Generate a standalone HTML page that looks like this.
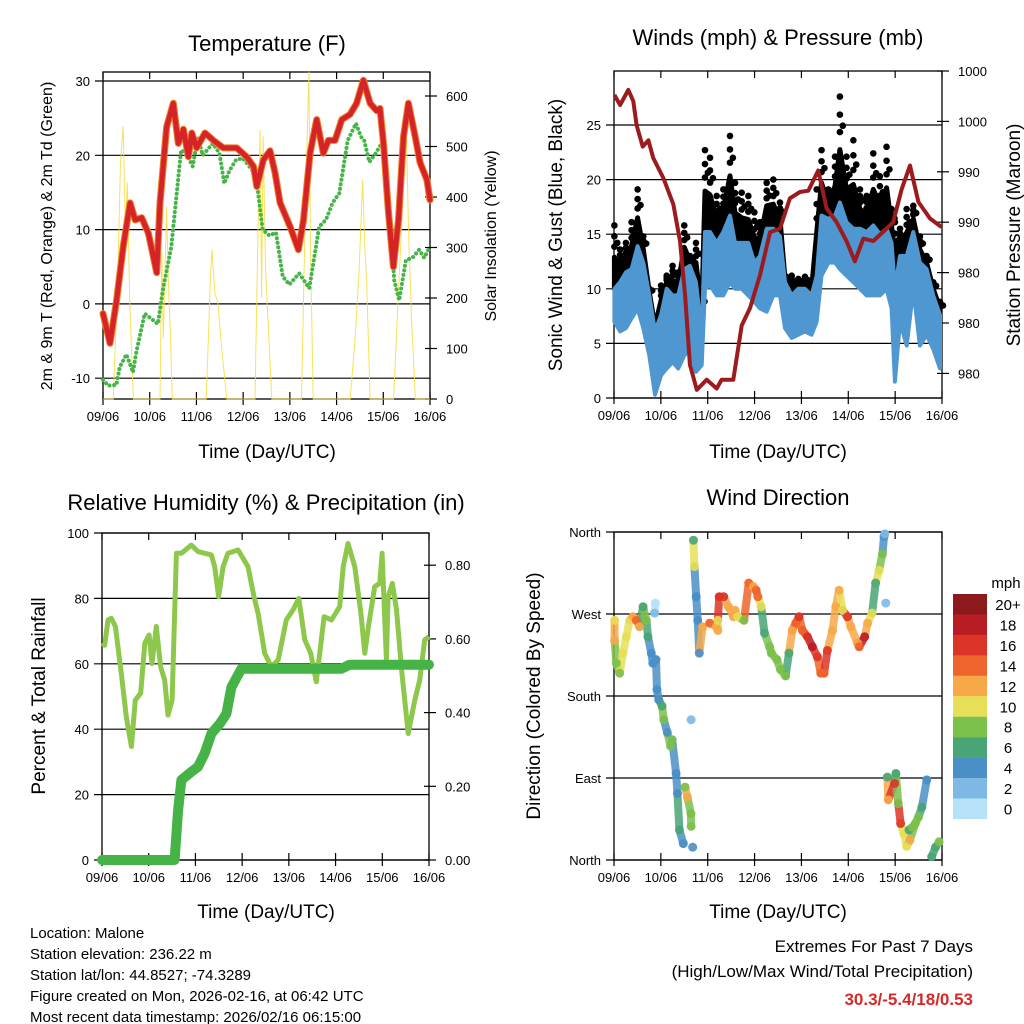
<!DOCTYPE html>
<html><head><meta charset="utf-8"><title>Station Meteogram</title>
<style>
html,body{margin:0;padding:0;background:#fff;}
svg{display:block;font-family:"Liberation Sans",Arial,sans-serif;}
</style></head>
<body>
<svg id="chart" width="1024" height="1024" viewBox="0 0 1024 1024" xmlns="http://www.w3.org/2000/svg">
<rect x="0" y="0" width="1024" height="1024" fill="#fff"/>
<text x="267" y="51" font-size="22" text-anchor="middle">Temperature (F)</text>
<text x="778" y="45" font-size="22" text-anchor="middle">Winds (mph) &amp; Pressure (mb)</text>
<text x="266" y="510" font-size="22" text-anchor="middle">Relative Humidity (%) &amp; Precipitation (in)</text>
<text x="778" y="505" font-size="22" text-anchor="middle">Wind Direction</text>
<text x="267" y="458" font-size="19" text-anchor="middle">Time (Day/UTC)</text>
<text x="778" y="458" font-size="19" text-anchor="middle">Time (Day/UTC)</text>
<text x="266" y="918" font-size="19" text-anchor="middle">Time (Day/UTC)</text>
<text x="778" y="918" font-size="19" text-anchor="middle">Time (Day/UTC)</text>
<text transform="translate(52,236) rotate(-90)" font-size="16" text-anchor="middle">2m &amp; 9m T (Red, Orange) &amp; 2m Td (Green)</text>
<text transform="translate(496,236) rotate(-90)" font-size="16" text-anchor="middle">Solar Insolation (Yellow)</text>
<text transform="translate(562,235) rotate(-90)" font-size="19" text-anchor="middle">Sonic Wind &amp; Gust (Blue, Black)</text>
<text transform="translate(1020,235) rotate(-90)" font-size="19" text-anchor="middle">Station Pressure (Maroon)</text>
<text transform="translate(45,696) rotate(-90)" font-size="19" text-anchor="middle">Percent &amp; Total Rainfall</text>
<text transform="translate(540,696) rotate(-90)" font-size="19" text-anchor="middle">Direction (Colored By Speed)</text>
<g font-size="15">
<text x="30" y="938">Location: Malone</text>
<text x="30" y="959">Station elevation: 236.22 m</text>
<text x="30" y="980">Station lat/lon: 44.8527; -74.3289</text>
<text x="30" y="1001">Figure created on Mon, 2026-02-16, at 06:42 UTC</text>
<text x="30" y="1022">Most recent data timestamp: 2026/02/16 06:15:00</text>
</g>
<g font-size="17" text-anchor="end">
<text x="973" y="952">Extremes For Past 7 Days</text>
<text x="973" y="977">(High/Low/Max Wind/Total Precipitation)</text>
<text x="973" y="1005" fill="#d42a2a" font-weight="bold">30.3/-5.4/18/0.53</text>
</g>
<text x="1006" y="588" font-size="15" text-anchor="middle">mph</text>
</svg>
<script>
const dayLabels=['09/06','10/06','11/06','12/06','13/06','14/06','15/06','16/06'];
// Temperature (hours since start, deg F)
const tHours=[0,3.6,7.0,10.4,13.9,16.5,19.9,23.3,25.0,27.6,29.3,32.7,36.1,38.7,41.3,43.9,45.6,48.1,52.4,56.7,61.8,68.7,73.8,77.3,79.0,82.4,85.8,88.4,91.0,96.1,100.4,103.0,106.4,109.8,113.2,115.8,119.2,122.7,126.9,130.3,133.8,137.2,140.6,142.3,144.1,146.6,149.2,151.8,154.4,156.9,160.4,162.9,166.4,168];
const tempF=[-1.3,-5.3,0.5,7.7,13.6,11.3,11.6,9.5,7.4,4.2,13.6,23.8,27,21.6,23.5,19.8,23,21,23,22,21,21,19.8,18.5,15.8,19.4,20.6,17.6,13.6,10.4,7.3,11.3,20.3,24.8,20.3,22,22,24.8,25.5,27,30.1,27,26,26.3,21.6,12.6,5,11.3,22.5,27,22.5,19,16.7,14];
const tdHours=[0,2.6,6.9,8.6,12.0,15.4,17.1,21.4,24.8,28.2,30.8,35.1,40.1,42.7,46.1,48.7,51.2,56.4,59.8,62.3,64.9,68.4,71.8,75.2,78.6,82.0,85.5,88.9,92.3,95.7,100.8,106.0,111.1,114.5,117.9,121.4,125.7,130.0,132.5,134.2,136.8,140.2,141.9,144.5,147.9,149.6,152.2,155.6,159.0,162.4,165.0,167.6];
const dewF=[-10.2,-11,-10.9,-8.5,-6.8,-9.2,-6.5,-1.3,-2,-2.7,1.9,7.7,20.7,20.3,18.5,22.5,20,21.6,20.3,16.2,17.9,19.4,19.6,18.5,17.3,10,9.2,9.6,3.7,2.6,4.1,2.1,10.4,11.3,13.6,14.9,22,24.3,22.5,22,19.1,20.3,21.1,22,10.4,3.2,0.5,5.9,6.2,7.3,6.2,7.5,5.4];
// Solar insolation
const solarHours=[0,5.3,7.5,9.0,10.4,11.5,12.5,13.8,15.6,29.3,30.2,31.0,32.7,33.6,34.5,35.6,53.0,54.5,55.2,56.0,57.5,59.0,61.0,63.6,78.1,79.5,80.7,81.5,82.3,83.5,86.7,102.0,104.0,105.8,106.6,108.0,127.0,129.5,131.5,133.4,134.5,135.5,137.2,149.3,151.5,153.5,155.7,157.0,158.5,160.5,168];
const solarW=[0,0,230,470,540,330,428,180,0,0,290,120,381,230,140,0,0,160,240,295,210,190,100,0,0,300,533,200,520,260,0,0,380,648,300,0,0,120,250,434,300,230,0,0,190,350,552,330,160,0,0];
const tempTicks=[30,20,10,0,-10];
const solarTicks=[0,100,200,300,400,500,600];
// Winds (mph) and pressure (mb)
const windHours=[0.2,3.1,6.1,9.0,12.1,15.0,18.1,21.0,24.1,27.0,30.0,32.9,36.0,38.9,42.0,44.9,46.6,49.2,52.6,56.0,59.4,62.0,65.4,68.8,71.9,74.8,78.2,81.6,85.0,87.6,91.0,94.4,97.8,101.2,103.8,106.3,109.8,113.2,115.7,119.1,122.6,126.0,129.4,132.8,136.2,139.6,142.2,143.9,146.5,149.9,153.3,156.7,160.1,163.5,167];
const windMax=[10.0,10.6,11.5,11.8,13.9,12.4,9.4,6.1,7.6,10.0,9.4,9.4,11.8,12.1,10.6,5.8,15.2,15.2,14.2,15.2,16.7,14.2,14.2,14.2,12.4,13.0,15.5,15.5,14.8,10.6,9.4,10.0,10.0,9.4,11.2,16.7,16.4,16.7,17.9,16.1,15.5,15.5,15.2,15.8,15.0,15.5,14.2,10.0,13.0,13.0,15.2,12.4,11.8,9.4,7.6];
const windMin=[7.0,6.1,6.4,7.3,8.2,6.4,3.9,0.3,2.1,2.7,3.3,2.7,3.9,4.5,2.4,3.0,10.0,10.3,9.4,9.4,10.6,10.0,10.0,9.4,8.8,8.2,7.9,9.4,9.4,6.4,5.5,5.8,6.1,5.8,7.0,11.2,12.4,12.4,11.8,11.2,10.6,10.0,9.4,9.4,9.4,10.0,8.2,1.5,7.0,4.8,10.0,4.8,5.8,4.5,2.7];
const gustMax=[15.8,13.6,14.2,16.1,19.1,14.8,10.0,7.0,10.3,11.2,12.1,11.5,15.8,13.0,14.2,10.0,22.7,22.0,18.5,19.1,24.0,19.7,18.8,18.5,17.0,16.1,19.7,20.0,17.9,11.2,11.2,10.9,11.1,10.6,19.1,22.7,19.1,22.1,27.6,22.1,23.6,19.1,18.5,22.4,20.3,23.0,17.3,16.1,15.5,17.3,17.6,14.8,13.0,10.6,8.8];
const presHours=[0.2,3.1,7.3,9.9,11.6,14.7,17.6,20.1,25.3,30.4,33.8,36.4,38.9,42.4,47.5,52.6,55.1,61.1,65.4,69.7,74.8,79.9,85.0,90.1,95.2,99.5,104.6,108.9,114.0,119.1,123.4,127.7,132.8,139.6,143.0,147.3,151.6,155.9,161.8,167.8];
const presMb=[998.1,997.3,998.5,997.6,995.7,994.0,994.5,993.1,991.5,989.4,986.5,982.2,976.7,974.7,975.5,974.8,975.5,975.5,979.8,981.2,983.8,987.2,987.5,989.9,990.4,990.5,992.1,989.1,988.0,986.5,984.9,986.7,986.5,987.5,988.0,990.6,992.5,989.6,988.3,987.6];
const windTicks=[25,20,15,10,5,0];
const presTicks=[1000,996,992,988,984,980,976];
const presTickLabels=['1000','1000','990','990','980','980','980'];
// Relative humidity and precipitation
const rhHours=[0,1.4,3.1,4.8,6.9,9.9,12.5,15.1,17.1,19.9,22,24.2,25.7,27.9,30.1,32.2,33.9,36,38.2,40.8,45.9,49.3,56.2,57.9,59.9,62.2,64.7,69.9,75,78.1,80.2,83.6,87,90.5,94.7,98.2,101.1,104.2,107.2,110.1,114.1,117.9,122.1,123.9,126.4,129.9,133,135,137.1,140.1,142.7,143.9,146.1,147,149.2,151.3,153.9,157.3,160.7,163.2,165.8,168];
const rhPct=[66.3,65.7,73.4,73.9,71.4,57.1,43.8,34.7,48.9,51,66.3,68.8,60.1,71.4,59.1,55,44.3,48.9,93.8,93.8,96.3,94.3,93.3,89.7,80.5,89.7,93.8,94.8,89.7,80.5,75.4,63.2,59.1,61.2,73.4,76.5,80,67.3,63.2,54.5,74.4,73.4,77.5,89.7,96.8,89.7,75.4,63.2,72.4,83.6,84.6,93.8,61.2,80.5,84.6,76.5,58.1,38.7,48.9,55,67.3,68.3];
const pcpHours=[0,37.3,39.1,40.8,45.9,49.3,52.7,56.2,60.5,63.9,66.5,71.6,123,127.3,168];
const pcpIn=[0,0,0.135,0.217,0.239,0.253,0.289,0.343,0.37,0.397,0.469,0.519,0.519,0.53,0.53];
const rhTicks=[100,80,60,40,20,0];
const pcpTicks=[0.8,0.6,0.4,0.2,0];
const pcpTickLabels=['0.80','0.60','0.40','0.20','0.00'];
// Wind direction (deg) colored by speed (mph)
const dirHours=[0.3,0.3,1.2,2.9,4.6,6.3,8.0,9.7,11.4,13.1,14.9,16.6,17.4,19.1,19.9,20.8,21.2,21.5,22.0,22.9,24.6,25.5,27.3,29.0,29.8,31.8,32.5,33.5,35.5,36.4,37.6,39.4,39.5,39.5,40.3,40.7,41.2,42.1,42.9,43.7,45.4,49.0,52.4,53.2,53.2,53.9,56.2,58.6,61.2,62.0,63.4,66.6,69.0,71.4,72.8,73.7,75.4,77.1,79.7,80.6,83.4,85.3,87.9,89.6,91.3,93.1,94.8,96.5,99.1,101.6,104.2,105.9,107.6,109.3,111.9,113.6,115.3,117.1,119.6,121.3,124.7,125.6,128.4,129.9,132.2,134.0,135.8,137.5,138.3,138.7,139.2,140.0,140.5,143.7,144.4,145.6,146.8,148.5,149.9,151.6,154.3,155.9,157.7,160.2,162.7,164.7,166.5,151.1,152.8];
const dirDeg=[263,241,216,205,227,245,263,267,263,256,278,263,245,227,216,271,282,220,187,176,169,154,140,125,132,95,73,33,18,80,69,51,37,154,14,351,322,289,263,227,256,260,256,252,263,289,289,278,267,274,267,263,304,300,296,289,278,249,234,227,220,209,202,227,252,260,267,252,245,234,223,205,205,230,252,278,296,274,267,256,238,234,245,260,271,304,318,336,355,358,282,91,66,84,95,62,40,29,15,22,40,47,58,88,3.6,14,20,33,36];
const dirSpeed=[10,12,8,8,10,10,10,12,14,12,6,8,6,4,4,2,0,4,4,4,6,8,4,8,8,4,4,6,4,8,12,8,8,2,4,6,10,4,4,4,12,14,12,12,10,16,16,12,12,12,10,8,14,12,14,14,10,6,8,8,8,8,8,6,12,14,16,14,16,18,16,14,14,16,12,12,12,10,16,12,12,14,18,12,10,6,10,8,4,2,2,6,12,16,6,8,16,10,10,12,8,8,6,4,6,6,8,6,8];
const dirTicks=[360,270,180,90,0];
const dirTickLabels=['North','West','South','East','North'];
const cbLabels=['20+','18','16','14','12','10','8','6','4','2','0'];
const cbColors=['#8c1a1c','#b91d24','#dc3427','#ef642c','#f7a94a','#e7df58','#7dc14d','#49a575','#4a8fc6','#7db9e4','#b5e2f8'];

const NS='http://www.w3.org/2000/svg';
const svg=document.getElementById('chart');
function mk(tag,attrs,parent){const e=document.createElementNS(NS,tag);for(const k in attrs)e.setAttribute(k,attrs[k]);(parent||svg).appendChild(e);return e;}
function pts(xs,ys,fx,fy){return xs.map((h,i)=>fx(h).toFixed(1)+','+fy(ys[i]).toFixed(1)).join(' ');}

const P1={x0:103,x1:430,y0:72,y1:399};
const P2={x0:614,x1:942,y0:71,y1:398};
const P3={x0:102,x1:429,y0:533,y1:860};
const P4={x0:614,x1:942,y0:532,y1:860};
function xs(p){return h=>p.x0+h/168*(p.x1-p.x0);}
const yT=v=>81+(30-v)*7.43;
const ySol=v=>399-v*0.505;
const yW=v=>398-v*10.92;
const yP=v=>71+(1000-v)*12.6;
const yRH=v=>860-v*3.27;
const yPc=v=>860-v*368.5;
const yD=v=>860-v*328/360;

function frame(p,name){
  const g=mk('g',{});
  
  
  const r=mk('rect',{x:p.x0,y:p.y0,width:p.x1-p.x0,height:p.y1-p.y0,fill:'none',stroke:'#000','stroke-width':1.3},g);
  
  
  const fx=xs(p);
  dayLabels.forEach((lab,i)=>{
    const x=fx(i*24);
    mk('line',{x1:x,x2:x,y1:p.y0,y2:p.y0+7,stroke:'#000','stroke-width':1.2},g);
    mk('line',{x1:x,x2:x,y1:p.y1-7,y2:p.y1+6,stroke:'#000','stroke-width':1.2},g);
    const t=mk('text',{x:x,y:p.y1+22,'font-size':13,'text-anchor':'middle'},g);
    t.textContent=lab;
    
    
  });
  return g;
}
function leftAxis(p,ticks,labels,fy,name){
  const g=mk('g',{});
  
  
  ticks.forEach((v,i)=>{
    const y=fy(v);
    mk('line',{x1:p.x0-8,x2:p.x1,y1:y,y2:y,stroke:'#000','stroke-width':1.2},g);
    const t=mk('text',{x:p.x0-13,y:y+5,'font-size':13,'text-anchor':'end'},g);
    t.textContent=labels[i];
    
    
  });
}
function rightAxis(p,ticks,labels,fy,name){
  const g=mk('g',{});
  
  
  ticks.forEach((v,i)=>{
    const y=fy(v);
    mk('line',{x1:p.x1-5,x2:p.x1+7,y1:y,y2:y,stroke:'#000','stroke-width':1.2},g);
    const t=mk('text',{x:p.x1+16,y:y+5,'font-size':13},g);
    t.textContent=labels[i];
    
    
  });
}

// ---- Panel 1
frame(P1,'temperature');
leftAxis(P1,tempTicks,tempTicks.map(String),yT,'temperature');
rightAxis(P1,solarTicks,solarTicks.map(String),ySol,'solar');
let fx=xs(P1);
let e=mk('polyline',{points:pts(solarHours,solarW,fx,ySol),fill:'none',stroke:'#f7dc3c','stroke-width':1,'stroke-opacity':0.85});


e=mk('polyline',{points:pts(tdHours,dewF,fx,yT),fill:'none',stroke:'#46b448','stroke-width':4,'stroke-linecap':'round','stroke-linejoin':'round','stroke-dasharray':'0.1 4.5'});


e=mk('polyline',{points:pts(tHours,tempF,fx,yT),fill:'none',stroke:'#f07d2a','stroke-width':7,'stroke-linejoin':'round','stroke-linecap':'round'});


e=mk('polyline',{points:pts(tHours,tempF,fx,yT),fill:'none',stroke:'#d52428','stroke-width':5,'stroke-linejoin':'round','stroke-linecap':'round'});



// ---- Panel 2
frame(P2,'winds');
leftAxis(P2,windTicks,windTicks.map(String),yW,'winds');
rightAxis(P2,presTicks,presTickLabels,yP,'pressure');
fx=xs(P2);
// dense black gust cloud: area from wind max up to halfway to gust
const cloudTop=windHours.map((h,i)=>fx(h).toFixed(1)+','+yW((windMax[i]+gustMax[i])/2).toFixed(1));
const cloudBot=windHours.map((h,i)=>fx(h).toFixed(1)+','+yW(windMax[i]).toFixed(1)).reverse();
e=mk('polygon',{points:cloudTop.concat(cloudBot).join(' '),fill:'#000',stroke:'#000','stroke-width':5,'stroke-linejoin':'round'});


windHours.forEach((h,i)=>{
  const x=fx(h);
  const mid=(windMax[i]+gustMax[i])/2;
  [mid+(gustMax[i]-mid)*0.33,mid+(gustMax[i]-mid)*0.66,gustMax[i]].forEach(v=>{
    const c=mk('circle',{cx:x,cy:yW(v),r:3.3,fill:'#000'});
    
    
  });
  const c2=mk('circle',{cx:x+2.9,cy:yW(mid+(gustMax[i]-mid)*0.45),r:3.3,fill:'#000'});
  
  
});
const bandTop=windHours.map((h,i)=>fx(h).toFixed(1)+','+yW(windMax[i]).toFixed(1));
const bandBot=windHours.map((h,i)=>fx(h).toFixed(1)+','+yW(windMin[i]).toFixed(1)).reverse();
e=mk('polygon',{points:bandTop.concat(bandBot).join(' '),fill:'#4f97d1',stroke:'#4f97d1','stroke-width':4,'stroke-linejoin':'round'});


e=mk('polyline',{points:pts(presHours,presMb,fx,yP),fill:'none',stroke:'#9b1b1e','stroke-width':4,'stroke-linejoin':'round'});



// ---- Panel 3
frame(P3,'humidity');
leftAxis(P3,rhTicks,rhTicks.map(String),yRH,'humidity');
rightAxis(P3,pcpTicks,pcpTickLabels,yPc,'precip');
fx=xs(P3);
e=mk('polyline',{points:pts(rhHours,rhPct,fx,yRH),fill:'none',stroke:'#8dc84d','stroke-width':5,'stroke-linejoin':'round'});


e=mk('polyline',{points:pts(pcpHours,pcpIn,fx,yPc),fill:'none',stroke:'#46b347','stroke-width':10,'stroke-linejoin':'round','stroke-linecap':'round'});



// ---- Panel 4
frame(P4,'direction');
leftAxis(P4,dirTicks,dirTickLabels,yD,'direction');
fx=xs(P4);
function spColor(s){const idx=Math.min(10,Math.floor(s/2));return cbColors[10-idx];}
dirHours.forEach((h,i)=>{
  if(i>0){
    const dt=h-dirHours[i-1], dd=Math.abs(dirDeg[i]-dirDeg[i-1]);
    if(dt>=0&&dt<3.5&&dd<45){
      const s=mk('line',{x1:fx(dirHours[i-1]),y1:yD(dirDeg[i-1]),x2:fx(h),y2:yD(dirDeg[i]),stroke:spColor(dirSpeed[i]),'stroke-width':8,'stroke-linecap':'round','stroke-opacity':0.85});
      
      
    }
  }
});
dirHours.forEach((h,i)=>{
  const c=mk('circle',{cx:fx(h),cy:yD(dirDeg[i]),r:4.5,fill:spColor(dirSpeed[i]),'fill-opacity':0.9});
  
  
});
// colorbar
cbLabels.forEach((lab,i)=>{
  const y=594+i*20.45;
  const r=mk('rect',{x:953,y:y,width:34,height:20.6,fill:cbColors[i]});
  
  
  const t=mk('text',{x:1008,y:y+16,'font-size':15,'text-anchor':'middle'});
  t.textContent=lab;
  
  
});
</script>
</body></html>
